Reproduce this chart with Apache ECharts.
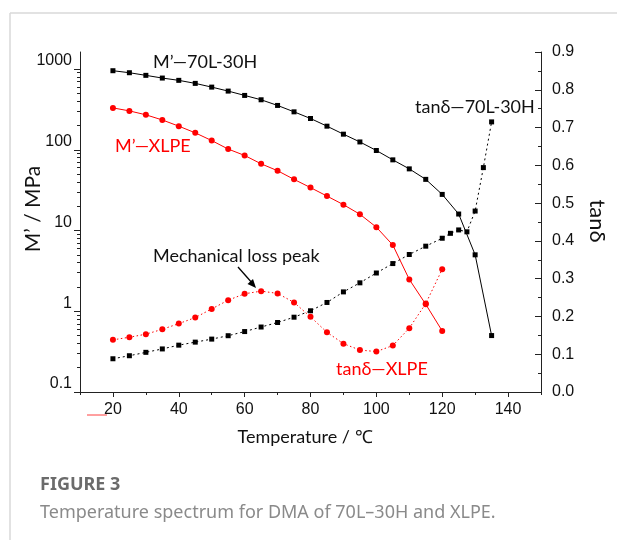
<!DOCTYPE html>
<html>
<head>
<meta charset="utf-8">
<script src="https://cdn.jsdelivr.net/npm/echarts@6.0.0/dist/echarts.min.js"></script>
<style>
  html, body { margin: 0; padding: 0; background: #fff; }
  #chart { width: 617px; height: 540px; }
</style>
</head>
<body>
<div id="chart"></div>
<script>
// temperature (°C) of each measurement
var tempM70 = [20, 25, 30, 35, 40, 45, 50, 55, 60, 65, 70, 75, 80, 85, 90, 95, 100, 105, 110, 115, 120, 125, 130, 135];
var tempXlpe = [20, 25, 30, 35, 40, 45, 50, 55, 60, 65, 70, 75, 80, 85, 90, 95, 100, 105, 110, 115, 120];
var tempTan70 = [20, 25, 30, 35, 40, 45, 50, 55, 60, 65, 70, 75, 80, 85, 90, 95, 100, 105, 110, 115, 120, 122.5, 125, 127.5, 130, 132.5, 135];

// storage modulus M' (MPa), log axis
var modM70 = [953, 900, 835, 773, 724, 664, 597, 533, 471, 416, 354, 295, 244, 196, 156, 125, 98, 75, 58, 43, 28, 16, 5.0, 0.50];
var modXlpe = [330, 303, 271, 234, 196, 162, 130, 102, 85, 67, 55, 43, 34, 26.7, 20.9, 15.9, 11.0, 6.6, 2.48, 1.22, 0.57];

// loss factor tanδ
var tanM70 = [0.088, 0.096, 0.105, 0.114, 0.124, 0.132, 0.140, 0.149, 0.160, 0.172, 0.184, 0.198, 0.215, 0.237, 0.265, 0.289, 0.315, 0.340, 0.364, 0.386, 0.407, 0.420, 0.429, 0.424, 0.479, 0.594, 0.715];
var tanXlpe = [0.138, 0.145, 0.153, 0.166, 0.181, 0.197, 0.220, 0.243, 0.260, 0.267, 0.261, 0.237, 0.199, 0.158, 0.128, 0.111, 0.107, 0.123, 0.169, 0.234, 0.325];

// ticks
var xMajor = [20, 40, 60, 80, 100, 120, 140];
var xMinor = [10, 30, 50, 70, 90, 110, 130, 150];
var logMajor = [0.1, 1, 10, 100, 1000];
var logMinor = [0.2, 0.3, 0.4, 0.5, 0.6, 0.7, 0.8, 0.9, 2, 3, 4, 5, 6, 7, 8, 9, 20, 30, 40, 50, 60, 70, 80, 90, 200, 300, 400, 500, 600, 700, 800, 900];

function pairs(xs, ys) {
  return xs.map(function (x, i) { return [x, ys[i]]; });
}

var chart = echarts.init(document.getElementById("chart"));

var tickFont = { fontFamily: "Liberation Sans", fontSize: 16, color: "#111" };
var lineDark = { color: "#222", width: 1 };

chart.setOption({
  animation: false,
  grid: { left: 80, right: 76, top: 52, bottom: 148, outerBoundsMode: "none" },
  xAxis: [
    {
      type: "value",
      min: 10,
      max: 150,
      position: "bottom",
      axisLine: { show: true, lineStyle: lineDark },
      axisTick: { show: true, length: 5, lineStyle: lineDark, customValues: xMajor },
      axisLabel: Object.assign({ margin: 10, customValues: xMajor }, tickFont),
      splitLine: { show: false }
    },
    {
      type: "value",
      min: 10,
      max: 150,
      position: "bottom",
      axisLine: { show: false },
      axisTick: { show: true, length: 3, lineStyle: lineDark, customValues: xMinor },
      axisLabel: { show: false },
      splitLine: { show: false }
    }
  ],
  yAxis: [
    {
      type: "log",
      logBase: 10,
      min: 0.1,
      max: 1625,
      position: "left",
      axisLine: { show: true, lineStyle: lineDark },
      axisTick: { show: true, length: 6, lineStyle: lineDark, customValues: logMajor },
      axisLabel: Object.assign({
        margin: 8,
        verticalAlign: "bottom",
        customValues: logMajor,
        formatter: function (v) { return String(+(+v).toPrecision(2)); }
      }, tickFont),
      splitLine: { show: false }
    },
    {
      type: "value",
      min: 0,
      max: 0.9,
      interval: 0.1,
      position: "right",
      axisLine: { show: true, lineStyle: lineDark },
      axisTick: { show: true, inside: true, length: 6, lineStyle: lineDark },
      minorTick: { show: true, splitNumber: 2, length: 3, lineStyle: lineDark },
      axisLabel: Object.assign({
        margin: 11,
        formatter: function (v) { return v.toFixed(1); }
      }, tickFont),
      splitLine: { show: false }
    },
    {
      type: "log",
      logBase: 10,
      min: 0.1,
      max: 1625,
      position: "left",
      axisLine: { show: false },
      axisTick: { show: true, length: 3, lineStyle: lineDark, customValues: logMinor },
      axisLabel: { show: false },
      splitLine: { show: false }
    }
  ],
  series: [
    {
      name: "M’—70L-30H",
      type: "line",
      yAxisIndex: 0,
      data: pairs(tempM70, modM70),
      symbol: "rect",
      symbolSize: 5,
      itemStyle: { color: "#000" },
      lineStyle: { color: "#000", width: 1 }
    },
    {
      name: "M’—XLPE",
      type: "line",
      yAxisIndex: 0,
      data: pairs(tempXlpe, modXlpe),
      symbol: "circle",
      symbolSize: 6,
      itemStyle: { color: "#ff0000" },
      lineStyle: { color: "#ff0000", width: 1 }
    },
    {
      name: "tanδ—70L-30H",
      type: "line",
      yAxisIndex: 1,
      data: pairs(tempTan70, tanM70),
      symbol: "rect",
      symbolSize: 5,
      itemStyle: { color: "#000" },
      lineStyle: { color: "#000", width: 1, type: [2, 3] }
    },
    {
      name: "tanδ—XLPE",
      type: "line",
      yAxisIndex: 1,
      data: pairs(tempXlpe, tanXlpe),
      symbol: "circle",
      symbolSize: 6,
      itemStyle: { color: "#ff0000" },
      lineStyle: { color: "#ff0000", width: 1, type: [1.5, 2.5] }
    }
  ],
  graphic: [
    // page frame
    { type: "line", shape: { x1: 10, y1: 13, x2: 617, y2: 13 }, style: { stroke: "#d8d8d8", lineWidth: 1.5 } },
    { type: "line", shape: { x1: 10, y1: 13, x2: 10, y2: 540 }, style: { stroke: "#d8d8d8", lineWidth: 1.5 } },
    // axis names
    { type: "text", x: 33, y: 209, rotation: Math.PI / 2, style: { text: "M’ / MPa", fill: "#111", font: "21px Lato", align: "center", verticalAlign: "middle" } },
    { type: "text", x: 597, y: 221, rotation: -Math.PI / 2, style: { text: "tanδ", fill: "#111", font: "22px Lato", align: "center", verticalAlign: "middle" } },
    { type: "text", x: 305, y: 437, style: { text: "Temperature / ℃", fill: "#111", font: "18px Lato", align: "center", verticalAlign: "middle" } },
    // curve labels
    { type: "text", x: 153, y: 62, style: { text: "M’—70L-30H", fill: "#111", font: "18px Lato", verticalAlign: "middle" } },
    { type: "text", x: 115, y: 146, style: { text: "M’—XLPE", fill: "#ff0000", font: "18px Lato", verticalAlign: "middle" } },
    { type: "text", x: 415, y: 107, style: { text: "tanδ—70L-30H", fill: "#111", font: "18px Lato", verticalAlign: "middle" } },
    { type: "text", x: 336, y: 369, style: { text: "tanδ—XLPE", fill: "#ff0000", font: "18px Lato", verticalAlign: "middle" } },
    { type: "text", x: 153, y: 256, style: { text: "Mechanical loss peak", fill: "#111", font: "18px Lato", verticalAlign: "middle" } },
    // arrow to the loss peak
    { type: "line", shape: { x1: 238, y1: 267, x2: 253, y2: 284 }, style: { stroke: "#000", lineWidth: 1.3 } },
    { type: "polygon", shape: { points: [[256, 288], [247.5, 284], [253, 279]] }, style: { fill: "#000" } },
    // stray red mark under the 20 label
    { type: "line", shape: { x1: 87, y1: 415, x2: 107, y2: 415 }, style: { stroke: "#ff4040", lineWidth: 1 } },
    // caption
    { type: "text", x: 40, y: 485, style: { text: "FIGURE 3", fill: "#6b6b6b", font: "bold 18px 'Noto Sans'", verticalAlign: "middle" } },
    { type: "text", x: 40, y: 513, style: { text: "Temperature spectrum for DMA of 70L–30H and XLPE.", fill: "#8a8a8a", font: "18px 'Noto Sans'", verticalAlign: "middle" } }
  ]
});
</script>
</body>
</html>
